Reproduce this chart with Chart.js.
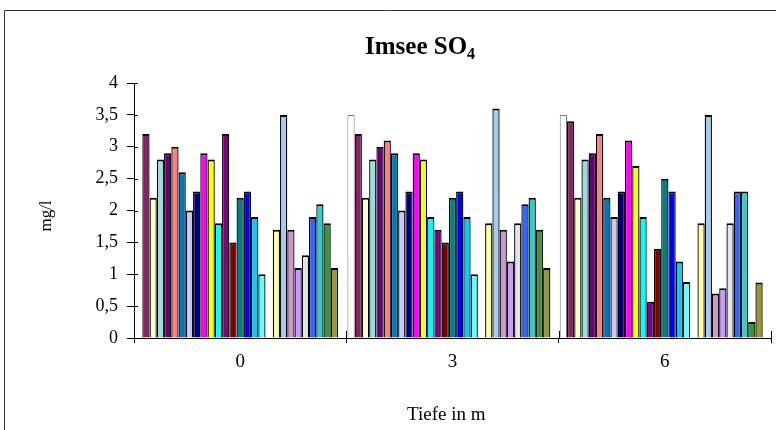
<!DOCTYPE html>
<html><head><meta charset="utf-8">
<script src="https://cdn.jsdelivr.net/npm/chart.js@4/dist/chart.umd.min.js"></script>
<style>html,body{margin:0;padding:0;background:#fff}#wrap{width:776px;height:430px}</style>
</head><body><div id="wrap"><canvas id="c" width="776" height="430"></canvas></div>
<script>
const categories = ['0', '3', '6'];
const yTickLabels = ['0', '0,5', '1', '1,5', '2', '2,5', '3', '3,5', '4'];
const s01 = [null, 3.5, 3.5];
const s02 = [3.2, 3.2, 3.4];
const s03 = [2.2, 2.2, 2.2];
const s04 = [2.8, 2.8, 2.8];
const s05 = [2.9, 3.0, 2.9];
const s06 = [3.0, 3.1, 3.2];
const s07 = [2.6, 2.9, 2.2];
const s08 = [2.0, 2.0, 1.9];
const s09 = [2.3, 2.3, 2.3];
const s10 = [2.9, 2.9, 3.1];
const s11 = [2.8, 2.8, 2.7];
const s12 = [1.8, 1.9, 1.9];
const s13 = [3.2, 1.7, 0.57];
const s14 = [1.5, 1.5, 1.4];
const s15 = [2.2, 2.2, 2.5];
const s16 = [2.3, 2.3, 2.3];
const s17 = [1.9, 1.9, 1.2];
const s18 = [1.0, 1.0, 0.88];
const s19 = [null, null, null];
const s20 = [1.7, 1.8, 1.8];
const s21 = [3.5, 3.6, 3.5];
const s22 = [1.7, 1.7, 0.7];
const s23 = [1.1, 1.2, 0.78];
const s24 = [1.3, 1.8, 1.8];
const s25 = [1.9, 2.1, 2.3];
const s26 = [2.1, 2.2, 2.3];
const s27 = [1.8, 1.7, 0.25];
const s28 = [1.1, 1.1, 0.87];
const s29 = [null, null, null];

const seriesValues = [s01,s02,s03,s04,s05,s06,s07,s08,s09,s10,s11,s12,s13,s14,s15,s16,s17,s18,s19,s20,s21,s22,s23,s24,s25,s26,s27,s28,s29];
const seriesColors = ['#FFFFFF','#862265','#FFFFCC','#99DDDD','#660077','#FF8080','#0077BB','#C8C8F8','#000080','#FF00FF','#FFFF00','#00FFFF','#800080','#800000','#008080','#0000FF','#00CCFF','#66FFFF','#CCFFCC','#FFFF99','#A6CAF0','#CC99CC','#CC99FF','#E3E3E3','#3366FF','#33CCCC','#339933','#999933','#FFFFFF'];

const datasets = seriesValues.map((v, i) => ({
  label: 'S' + (i + 1),
  data: v,
  backgroundColor: seriesColors[i],
  borderColor: i === 0 ? '#777777' : '#000000',
  borderWidth: i === 0 ? {top:1,left:1,right:1,bottom:0} : {top:2,left:1.3,right:1.3,bottom:0},
  borderSkipped: 'bottom',
  categoryPercentage: 0.99,
  barPercentage: 1.0
}));

const textPlugin = {
  id: 'texts',
  afterDraw(chart) {
    const ctx = chart.ctx;
    const xs = chart.scales.x, ys = chart.scales.y;
    ctx.save();
    ctx.strokeStyle = '#000';
    ctx.lineWidth = 1;
    ctx.beginPath();
    ys.ticks.forEach(t => {
      const py = Math.round(ys.getPixelForValue(t.value)) + 0.5;
      ctx.moveTo(xs.left, py); ctx.lineTo(xs.left + 4, py);
    });
    const half = (xs.getPixelForValue(1) - xs.getPixelForValue(0)) / 2;
    for (let i = 0; i <= categories.length; i++) {
      const px = Math.round(xs.getPixelForValue(i) - half) + 0.5;
      ctx.moveTo(px, ys.bottom); ctx.lineTo(px, ys.bottom - 7);
    }
    ctx.stroke();
    ctx.strokeStyle = '#333';
    ctx.beginPath();
    ctx.moveTo(4.5, 430); ctx.lineTo(4.5, 10.5); ctx.lineTo(776, 10.5);
    ctx.stroke();
    ctx.fillStyle = '#000';
    ctx.textBaseline = 'alphabetic';
    ctx.textAlign = 'left';
    ctx.font = 'bold 25px "Liberation Serif"';
    const t1 = 'Imsee SO';
    const w1 = ctx.measureText(t1).width;
    ctx.fillText(t1, 365, 54);
    ctx.font = 'bold 16px "Liberation Serif"';
    ctx.fillText('4', 365 + w1, 59);
    ctx.font = '19px "Liberation Serif"';
    ctx.fillText('Tiefe in m', 407, 420);
    ctx.translate(47, 216);
    ctx.rotate(-Math.PI / 2);
    ctx.textAlign = 'center';
    ctx.textBaseline = 'middle';
    ctx.font = '17px "Liberation Serif"';
    ctx.fillText('mg/l', 0, 0);
    ctx.restore();
  }
};

new Chart(document.getElementById('c'), {
  type: 'bar',
  data: { labels: categories, datasets },
  options: {
    responsive: false,
    animation: false,
    devicePixelRatio: 1,
    layout: { padding: { top: 83, right: 5, left: 0, bottom: 0 } },
    plugins: { legend: { display: false }, tooltip: { enabled: false } },
    scales: {
      x: {
        offset: true,
        grid: { display: true, offset: true, drawOnChartArea: false, drawTicks: true, tickLength: 5, color: '#000' },
        border: { display: true, color: '#000', width: 1 },
        ticks: { color: '#000', font: { family: 'Liberation Serif', size: 19 }, padding: 8, maxRotation: 0 },
        afterFit(s) { s.height = 92; }
      },
      y: {
        min: 0, max: 4,
        grid: { display: true, drawOnChartArea: false, drawTicks: true, tickLength: 7, color: '#000' },
        border: { display: true, color: '#000', width: 1 },
        ticks: {
          stepSize: 0.5, color: '#000', padding: 9,
          font: { family: 'Liberation Serif', size: 18 },
          callback: (v, i) => yTickLabels[i]
        },
        afterFit(s) { s.width = 134; }
      }
    }
  },
  plugins: [textPlugin]
});
</script>
</body></html>
